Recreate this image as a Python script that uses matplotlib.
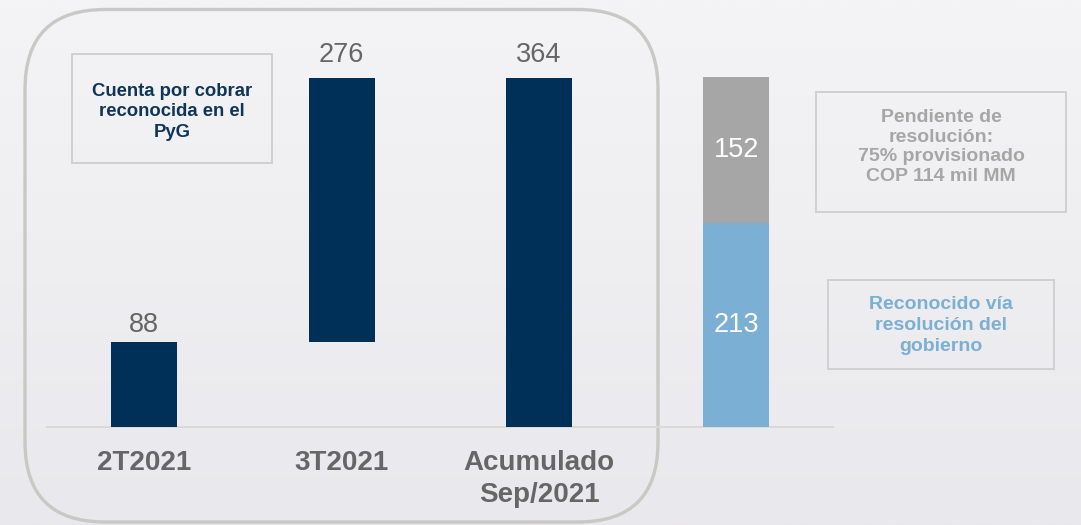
import matplotlib.pyplot as plt
import numpy as np
from matplotlib.patches import FancyBboxPatch, Rectangle

plt.rcParams['font.family'] = ['Liberation Sans', 'DejaVu Sans']

# data
categories = ['2T2021', '3T2021', 'Acumulado\nSep/2021', '']
waterfall_vals = [88, 276, 364]
waterfall_bottoms = [0, 88, 0]
reconocido = 213
pendiente = 152

navy = '#003057'
grey_bar = '#a6a6a6'
light_blue = '#7bafd4'
txt_grey = '#666666'
box_edge = '#d0d0d0'

W, H = 1081, 525
fig = plt.figure(figsize=(W / 100, H / 100), dpi=100)

# background in pixel coords
bg = fig.add_axes([0, 0, 1, 1])
bg.set_xlim(0, W)
bg.set_ylim(H, 0)
bg.axis('off')
grad = np.linspace(0, 1, 256).reshape(-1, 1)
top_c = np.array([0xf4, 0xf4, 0xf6]) / 255
bot_c = np.array([0xe9, 0xe8, 0xec]) / 255
img = top_c + grad[:, :, None] * (bot_c - top_c)
bg.imshow(img, extent=(0, W, H, 0), aspect='auto', zorder=0)

bg.add_patch(FancyBboxPatch((25, 9.5), 633, 512.5, boxstyle='round,pad=0,rounding_size=80',
                            fill=False, ec='#c8c8c4', lw=2.4, zorder=1))

# note boxes
bg.add_patch(Rectangle((71.7, 54), 200.6, 109.3, fill=False, ec=box_edge, lw=1.4, zorder=1))
bg.text(172, 112, 'Cuenta por cobrar\nreconocida en el\nPyG', ha='center', va='center',
        color='#0f3558', fontsize=13.3, fontweight='bold', linespacing=1.3)

bg.add_patch(Rectangle((816, 91.7), 250, 120, fill=False, ec=box_edge, lw=1.4, zorder=1))
bg.text(941, 147, 'Pendiente de\nresolución:\n75% provisionado\nCOP 114 mil MM', ha='center',
        va='center', color='#a6a6a6', fontsize=14, fontweight='bold', linespacing=1.2)

bg.add_patch(Rectangle((828, 280), 226, 89, fill=False, ec=box_edge, lw=1.4, zorder=1))
bg.text(941, 325.5, 'Reconocido vía\nresolución del\ngobierno', ha='center', va='center',
        color=light_blue, fontsize=14, fontweight='bold', linespacing=1.3)

# main chart
base_px = 426.7
top_px = 24.4
ax = fig.add_axes([46.5 / W, (H - base_px) / H, (833 - 46.5) / W, (base_px - top_px) / H])
ax.set_facecolor('none')
ax.set_xlim(-0.496, 3.49)
ax.set_ylim(0, (base_px - top_px) / 0.957)

x = np.arange(len(categories))
bw = 0.335
ax.bar(x[:3], waterfall_vals, bottom=waterfall_bottoms, width=bw, color=navy, zorder=3)
ax.bar(x[3], reconocido, width=bw, color=light_blue, zorder=3)
ax.bar(x[3], pendiente, bottom=reconocido, width=bw, color=grey_bar, zorder=3)

gaps = [3.5, 7.8, 7.8]
for xi, v, b, g in zip(x[:3], waterfall_vals, waterfall_bottoms, gaps):
    ax.annotate(str(v), (xi, v + b), xytext=(0, g), textcoords='offset points',
                ha='center', va='bottom', fontsize=19.5, color=txt_grey)

ax.text(x[3], reconocido / 2, str(reconocido), ha='center', va='center', fontsize=19.5, color='white')
ax.text(x[3], reconocido + pendiente / 2, str(pendiente), ha='center', va='center',
        fontsize=19.5, color='white')

for s in ['top', 'right', 'left']:
    ax.spines[s].set_visible(False)
ax.spines['bottom'].set_color('#d9d9d9')
ax.spines['bottom'].set_linewidth(1.5)
ax.set_yticks([])
ax.set_xticks(x)
ax.set_xticklabels(categories, fontsize=20, fontweight='bold', color=txt_grey, linespacing=1.28)
ax.tick_params(axis='x', length=0, pad=17)

fig.savefig('out.png', dpi=100)
